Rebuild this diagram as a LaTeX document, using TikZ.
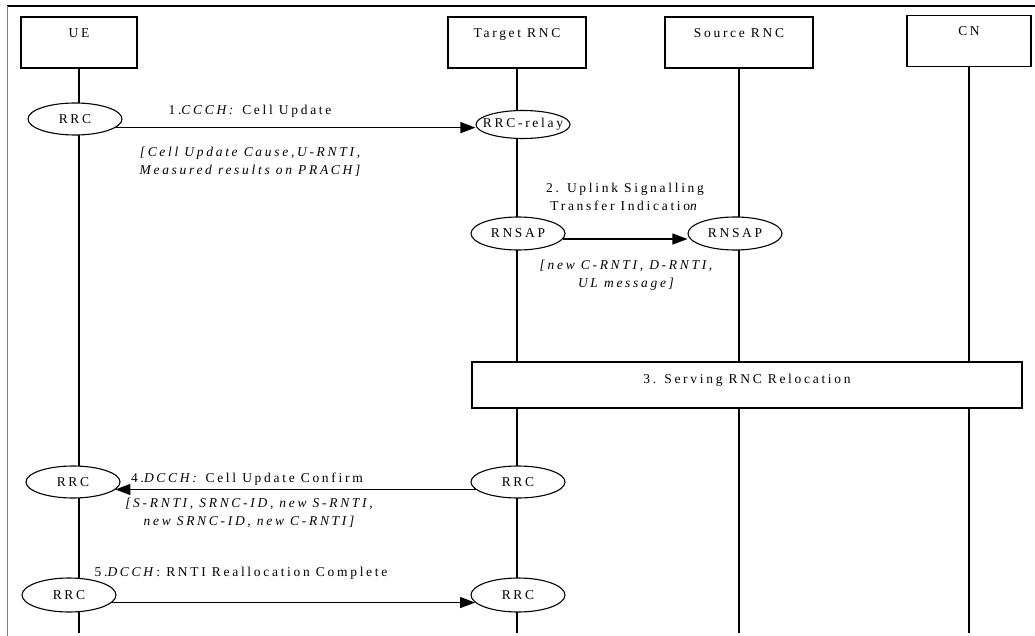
\documentclass[tikz,border=0pt]{standalone}
\usepackage{fontspec}
\setmainfont{Liberation Serif}[LetterSpace=20]
\usetikzlibrary{arrows.meta,shapes.geometric}

\begin{document}
\begin{tikzpicture}[
        x=1pt, y=-1pt, % координаты в пикселях, ось y вниз
        font=\fontsize{13.5}{18}\selectfont,
        unit/.style={draw, line width=1.2pt, minimum height=51pt, inner sep=0pt, text height=10pt, text depth=20pt}, % блоки участников
        ent/.style={ellipse, draw, fill=white, line width=1.1pt, minimum width=94pt, minimum height=32pt, inner sep=0pt}, % протоколы
        life/.style={line width=1.2pt},
        msg/.style={line width=1.1pt, -{Triangle[length=15pt, width=11pt]}}, % сообщения
        note/.style={font=\fontsize{13.5}{18}\selectfont\itshape, align=center}, % параметры
    ]
    \useasboundingbox (0,0) rectangle (1035,636);

    % рамка
    \draw[line width=1.3pt] (7,6) -- (1035,6);
    \draw[black!50, line width=1pt] (7,6) -- (7,636);

    \node[unit, minimum width=116pt] (ue) at (79,42.5) {UE};
    \node[unit, minimum width=138pt] (trnc) at (517,42.5) {Target RNC};
    \node[unit, minimum width=148pt] (srnc) at (739,42.5) {Source RNC};
    \node[unit, minimum width=124pt] (cn) at (969,41) {CN};

    \coordinate (bot) at (0,633);
    \foreach \n in {ue,trnc,srnc,cn}
        \draw[life] (\n.south) -- (\n.south |- bot);

    \node[unit, fill=white, minimum width=550pt, minimum height=46pt, text depth=13pt] (reloc) at (747,385) {3. Serving RNC Relocation};

    \node[ent] (rrcA) at (75,119) {RRC};
    \node[ent, minimum height=28pt] (relay) at (523,124.5) {\makebox[0pt]{RRC-relay}};
    \node[ent, minimum height=33pt] (nsT) at (518,233.5) {RNSAP};
    \node[ent, minimum height=33pt] (nsS) at (735,233.5) {RNSAP};
    \node[ent] (rrcB) at (73,482) {RRC};
    \node[ent] (rrcC) at (518,482) {RRC};
    \node[ent, minimum height=34pt] (rrcD) at (69,595) {RRC};
    \node[ent, minimum height=34pt] (rrcE) at (518,595) {RRC};

    \draw[msg] (rrcA.-12) -- (rrcA.-12 -| relay.west);
    \draw[msg] (nsT.-7) -- (nsT.-7 -| nsS.west);
    \draw[msg] (rrcC.190) -- (rrcB.-10);
    \draw[msg] (rrcD.-10) -- (rrcE.190);

    \node[anchor=base] (m1) at (250,114.5) {1.\textit{CCCH:} Cell Update};
    \node[note] (p1) at (250,162) {[Cell Update Cause,U-RNTI,\\Measured results on PRACH]};
    \node[align=center] (m2) at (625,197) {2. Uplink Signalling\\Transfer Indicatio\textit{n}};
    \node[note] (p2) at (626,275) {[new C-RNTI, D-RNTI,\\UL message]};
    \node[anchor=base] (m4) at (247,482.5) {4.\textit{DCCH:} Cell Update Confirm};
    \node[note] (p4) at (249,512.5) {[S-RNTI, SRNC-ID, new S-RNTI,\\new SRNC-ID, new C-RNTI]};
    \node[anchor=base] (m5) at (241,576.5) {5.\textit{DCCH}: RNTI Reallocation Complete};

\end{tikzpicture}
\end{document}
